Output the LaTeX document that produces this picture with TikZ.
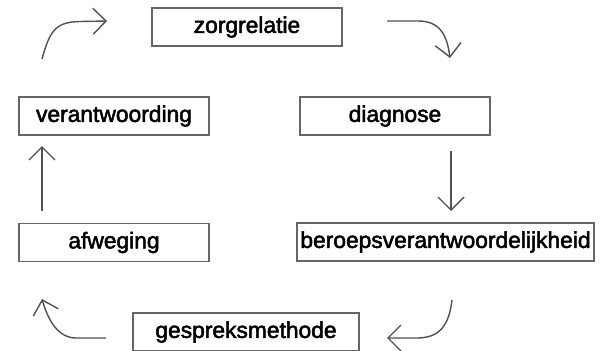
\documentclass[tikz,border=0pt]{standalone}
\usepackage{fontspec}
\setmainfont{Liberation Sans}
\newfontfamily\lblfont[FakeBold=2.2]{Liberation Sans}
\usetikzlibrary{arrows.meta}
\begin{document}
\begin{tikzpicture}[x=1pt,y=-1pt,
  box/.style={draw=black!60,line width=1.3pt,fill=white,inner sep=0pt,
    minimum height=38pt,font=\lblfont\fontsize{22.8}{27}\selectfont,text=black},
  flow/.style={draw=black!68,line width=1.4pt,
    -{Straight Barb[length=13pt,width=26pt,line width=1.4pt]}}]
\fill[white] (0,0) rectangle (601,350);
\useasboundingbox (0,0) rectangle (601,350);
\node[box,minimum width=190pt] (zorg) at (247,27) {zorgrelatie};
\node[box,minimum width=190pt] (verant) at (114,116) {verantwoording};
\node[box,minimum width=190pt] (diag) at (395,116) {diagnose};
\node[box,minimum width=190pt] (afw) at (114,242.5) {afweging};
\node[box,minimum width=297pt] (beroep) at (445.5,242) {beroepsverantwoordelijkheid};
\node[box,minimum width=226pt] (gesprek) at (246,332) {gespreksmethode};
% free connector ends
\coordinate (a1s) at (42,59);  \coordinate (a1e) at (107,21);
\coordinate (a2s) at (387,21); \coordinate (a2e) at (450,58);
\coordinate (a3s) at (451,151); \coordinate (a3e) at (451,211);
\coordinate (a4s) at (452,300); \coordinate (a4e) at (387,338);
\coordinate (a5s) at (106,338); \coordinate (a5e) at (42,299);
\coordinate (a6s) at (42,211); \coordinate (a6e) at (42,146);
\draw[flow] (a1s) .. controls (50,30) and (56,22) .. (80,21.5) -- (a1e);
\draw[flow] (a2s) -- (418,21) .. controls (440,21) and (447,35) .. (a2e);
\draw[flow] (a3s) -- (a3e);
\draw[flow] (a4s) .. controls (449,325) and (440,337.5) .. (418,338) -- (a4e);
\draw[flow] (a5s) -- (76,338) .. controls (58,338) and (48,320) .. (a5e);
\draw[flow] (a6s) -- (a6e);
\end{tikzpicture}
\end{document}
